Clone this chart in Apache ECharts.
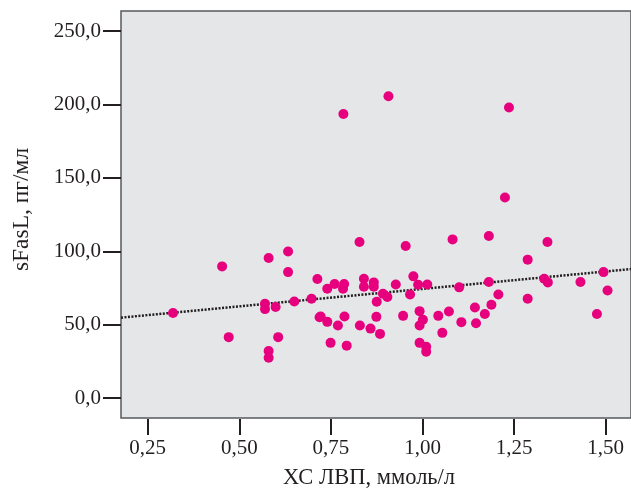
<!DOCTYPE html>
<html>
<head>
<meta charset="utf-8">
<script src="https://cdn.jsdelivr.net/npm/echarts@6/dist/echarts.min.js"></script>
<style>
  html, body { margin: 0; padding: 0; background: #fff; }
  #main { width: 631px; height: 490px; }
</style>
</head>
<body>
<div id="main"></div>
<script>
// HDL cholesterol, mmol/l
var hdlValues = [0.319, 0.453, 0.633, 0.580, 0.633, 0.713, 0.570, 0.570, 0.599, 0.650,
  0.697, 0.719, 0.471, 0.606, 0.580, 0.580, 0.828, 0.954, 1.082, 0.740,
  0.760, 0.786, 0.783, 0.840, 0.840, 0.867, 0.867, 0.927, 0.975, 0.988,
  1.013, 1.100, 0.892, 0.904, 0.875, 0.966, 0.722, 0.740, 0.787, 0.769,
  0.874, 0.829, 0.858, 0.884, 0.947, 0.992, 1.001, 0.992, 1.043, 1.072,
  1.106, 1.054, 0.749, 0.793, 0.992, 1.010, 1.010, 1.181, 1.341, 1.287,
  1.181, 1.332, 1.342, 1.431, 1.494, 1.505, 1.207, 1.188, 1.287, 1.143,
  1.170, 1.146, 1.476, 0.784, 0.907, 1.236, 1.225];

// sFasL, pg/ml
var sfaslValues = [57.9, 89.7, 99.9, 95.4, 85.8, 81.1, 64.2, 60.6, 62.0, 65.8,
  67.6, 55.1, 41.5, 41.5, 32.1, 27.5, 106.3, 103.6, 108.1, 74.5,
  77.7, 77.7, 74.5, 81.3, 75.8, 78.8, 75.8, 77.4, 82.9, 77.2,
  77.4, 75.4, 71.0, 68.8, 65.6, 70.6, 55.5, 51.9, 55.5, 49.4,
  55.3, 49.4, 47.3, 43.7, 56.0, 59.2, 53.3, 49.4, 56.0, 59.0,
  51.7, 44.4, 37.6, 35.7, 37.6, 35.0, 31.6, 110.4, 106.3, 94.3,
  79.0, 81.3, 78.8, 79.0, 85.8, 73.3, 70.6, 63.5, 67.6, 61.7,
  57.2, 51.0, 57.2, 193.5, 205.6, 197.9, 136.6];

var xTicks = [0.25, 0.50, 0.75, 1.00, 1.25, 1.50];
var yTicks = [0, 50, 100, 150, 200, 250];

var xRange = [0.177, 1.569];
var yRange = [-13.6, 263.7];

// least squares fit line
var n = hdlValues.length, sx = 0, sy = 0, sxx = 0, sxy = 0;
for (var i = 0; i < n; i++) {
  sx += hdlValues[i]; sy += sfaslValues[i];
  sxx += hdlValues[i] * hdlValues[i]; sxy += hdlValues[i] * sfaslValues[i];
}
var slope = (n * sxy - sx * sy) / (n * sxx - sx * sx);
var intercept = (sy - slope * sx) / n;
var fitLine = xRange.map(function (x) { return [x, intercept + slope * x]; });

var points = hdlValues.map(function (x, i) { return [x, sfaslValues[i]]; });

var font = "'Liberation Serif', 'DejaVu Serif', serif";
var ink = '#231f20';

var chart = echarts.init(document.getElementById('main'));
var option = {
  animation: false,
  grid: {
    left: 121, top: 11, right: 0, bottom: 72,
    outerBoundsMode: 'none',
    show: true,
    backgroundColor: '#e5e6e8',
    borderColor: '#58595b',
    borderWidth: 1.5
  },
  xAxis: {
    type: 'value',
    min: xRange[0], max: xRange[1],
    offset: 1,
    name: 'ХС ЛВП, ммоль/л',
    nameLocation: 'middle',
    nameGap: 48,
    nameTextStyle: { fontFamily: font, fontSize: 22.5, color: ink, padding: [0, 14, 0, 0] },
    axisLine: { show: false, onZero: false },
    splitLine: { show: false },
    axisTick: { show: true, inside: false, length: 16, lineStyle: { color: ink, width: 2 }, customValues: xTicks },
    axisLabel: {
      fontFamily: font, fontSize: 21, color: ink, margin: 19,
      customValues: xTicks,
      formatter: function (v) { return v.toFixed(2).replace('.', ','); }
    }
  },
  yAxis: {
    type: 'value',
    min: yRange[0], max: yRange[1],
    name: 'sFasL, пг/мл',
    nameLocation: 'middle',
    nameGap: 87,
    nameTextStyle: { fontFamily: font, fontSize: 23.5, color: ink, padding: [0, 0, 0, 10] },
    axisLine: { show: false, onZero: false },
    splitLine: { show: false },
    axisTick: { show: true, length: 18, lineStyle: { color: ink, width: 2 }, customValues: yTicks },
    axisLabel: {
      fontFamily: font, fontSize: 21, color: ink, margin: 20,
      customValues: yTicks,
      formatter: function (v) { return v.toFixed(1).replace('.', ','); }
    }
  },
  series: [
    {
      type: 'line',
      data: fitLine,
      symbol: 'none',
      z: 1,
      lineStyle: { color: ink, width: 2.5, type: [2, 1.5] }
    },
    {
      type: 'scatter',
      data: points,
      symbolSize: 10,
      z: 2,
      itemStyle: { color: '#e6007e', opacity: 1 }
    }
  ]
};
chart.setOption(option);
</script>
</body>
</html>
